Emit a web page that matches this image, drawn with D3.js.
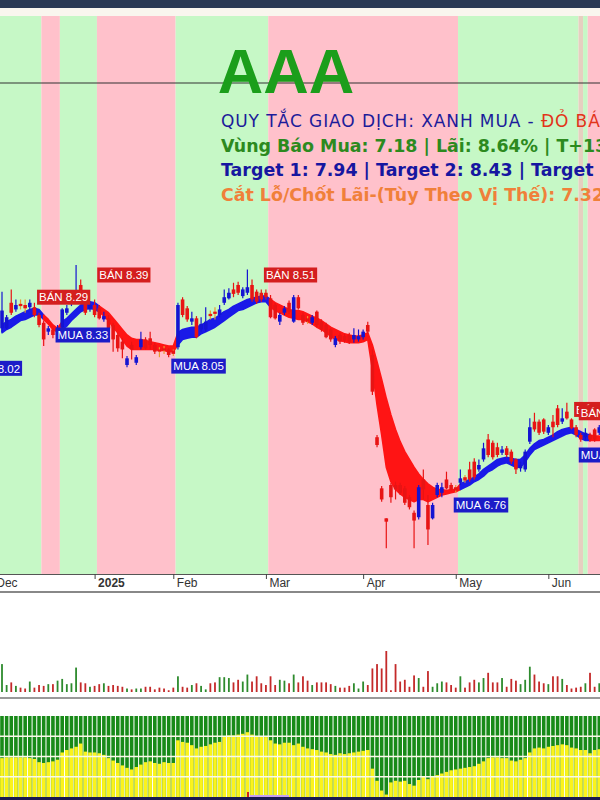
<!DOCTYPE html>
<html><head><meta charset="utf-8">
<script src="https://cdn.jsdelivr.net/npm/d3@7"></script>
<style>body{margin:0;background:#fff}svg{display:block}</style>
</head><body><svg id="c" width="600" height="800"></svg>
<script>
// ---- DATA (bar index 0..129, trading days from early Dec 2024 to mid Jun 2025) ----
const openP=[8.21,8.21,8.44,8.38,8.43,8.42,8.40,8.40,8.33,8.26,
8.18,8.20,8.15,8.22,8.35,8.43,8.48,8.60,8.47,8.38,
8.42,8.39,8.29,8.30,8.24,8.15,8.09,7.88,8.06,7.90,
8.04,8.11,8.12,8.06,8.02,8.03,8.02,8.01,8.04,8.47,
8.39,8.27,8.30,8.20,8.20,8.34,8.36,8.33,8.44,8.48,
8.56,8.60,8.50,8.53,8.60,8.54,8.53,8.53,8.48,8.42,
8.27,8.35,8.44,8.27,8.49,8.33,8.30,8.26,8.36,8.27,
8.24,8.20,8.06,8.15,8.14,8.15,8.11,8.11,8.13,8.24,
7.97,7.23,6.77,6.50,6.80,6.80,6.80,6.77,6.69,6.55,
6.51,6.85,6.62,6.50,6.71,6.73,6.85,6.80,6.78,6.82,
6.87,6.94,7.01,6.94,7.03,7.21,7.18,7.14,7.09,7.13,
7.10,7.03,6.95,6.94,7.19,7.37,7.37,7.39,7.27,7.37,
7.49,7.37,7.46,7.39,7.32,7.25,7.23,7.25,7.30,7.27];
const highP=[8.54,8.33,8.56,8.47,8.47,8.47,8.47,8.44,8.35,8.28,
8.23,8.21,8.24,8.39,8.42,8.49,8.78,8.65,8.48,8.44,
8.47,8.42,8.36,8.33,8.26,8.17,8.12,7.96,8.09,7.97,
8.18,8.13,8.18,8.08,8.04,8.05,8.03,8.02,8.44,8.49,
8.41,8.36,8.32,8.31,8.40,8.37,8.40,8.42,8.56,8.57,
8.62,8.63,8.58,8.74,8.65,8.56,8.56,8.56,8.51,8.44,
8.35,8.41,8.46,8.51,8.51,8.35,8.32,8.33,8.37,8.29,
8.26,8.21,8.14,8.17,8.16,8.17,8.21,8.20,8.20,8.27,
8.02,7.25,6.79,6.50,6.82,6.83,6.82,6.79,6.71,6.57,
6.80,6.94,6.71,6.64,6.82,6.82,6.92,6.82,6.80,6.94,
6.89,7.01,7.04,7.03,7.18,7.26,7.20,7.18,7.15,7.15,
7.12,7.04,7.01,7.12,7.40,7.45,7.39,7.40,7.34,7.43,
7.52,7.49,7.54,7.40,7.34,7.27,7.31,7.27,7.31,7.34];
const lowP=[8.18,8.20,8.33,8.36,8.38,8.35,8.38,8.31,8.22,8.05,
8.15,8.12,8.12,8.20,8.33,8.41,8.47,8.47,8.33,8.36,
8.31,8.29,8.27,8.20,8.00,8.00,7.94,7.86,7.93,7.88,
8.02,8.02,8.02,7.98,7.95,7.98,7.95,7.96,8.02,8.31,
8.27,8.24,8.12,8.18,8.18,8.29,8.29,8.31,8.42,8.47,
8.49,8.51,8.48,8.51,8.45,8.43,8.45,8.47,8.30,8.29,
8.24,8.33,8.34,8.26,8.38,8.24,8.25,8.24,8.22,8.18,
8.12,8.09,8.04,8.07,8.08,8.07,8.08,8.09,8.11,8.16,
7.61,7.14,6.65,6.23,6.64,6.67,6.71,6.62,6.58,6.23,
6.49,6.67,6.26,6.49,6.69,6.69,6.76,6.75,6.73,6.80,
6.82,6.83,6.85,6.92,7.01,7.05,7.03,7.05,7.07,7.05,
6.99,6.90,6.92,6.92,7.17,7.28,7.25,7.26,7.25,7.23,
7.32,7.35,7.39,7.30,7.23,7.19,7.21,7.19,7.19,7.25];
const closeP=[8.37,8.31,8.35,8.42,8.41,8.39,8.44,8.33,8.24,8.11,
8.21,8.15,8.20,8.38,8.39,8.47,8.54,8.49,8.35,8.42,
8.33,8.30,8.32,8.21,8.11,8.03,8.02,7.94,8.02,7.95,
8.11,8.03,8.06,8.00,8.00,8.01,7.97,7.98,8.42,8.33,
8.29,8.30,8.13,8.25,8.27,8.32,8.34,8.38,8.49,8.53,
8.52,8.53,8.56,8.58,8.47,8.45,8.47,8.49,8.31,8.30,
8.33,8.39,8.36,8.49,8.39,8.26,8.27,8.31,8.24,8.20,
8.13,8.11,8.12,8.09,8.10,8.09,8.15,8.14,8.18,8.18,
7.64,7.16,6.67,6.47,6.69,6.76,6.73,6.64,6.60,6.48,
6.78,6.76,6.40,6.62,6.80,6.78,6.77,6.76,6.75,6.86,
6.84,6.85,6.87,6.98,7.13,7.07,7.05,7.07,7.12,7.07,
7.01,6.94,6.98,7.10,7.32,7.30,7.27,7.28,7.32,7.32,
7.34,7.40,7.40,7.31,7.25,7.21,7.27,7.21,7.21,7.32];
// trend ribbon: upper and lower edge
const ribUp=[8.24,8.27,8.29,8.32,8.34,8.36,8.38,8.39,8.38,8.33,
8.29,8.24,8.21,8.27,8.30,8.34,8.38,8.42,8.44,8.45,
8.44,8.41,8.38,8.35,8.30,8.25,8.20,8.15,8.12,8.11,
8.11,8.10,8.09,8.08,8.07,8.06,8.05,8.05,8.17,8.20,
8.21,8.22,8.22,8.24,8.26,8.29,8.30,8.33,8.36,8.38,
8.41,8.43,8.45,8.47,8.48,8.49,8.50,8.50,8.47,8.44,
8.42,8.40,8.38,8.37,8.37,8.36,8.34,8.32,8.30,8.28,
8.25,8.22,8.20,8.18,8.16,8.15,8.14,8.14,8.15,8.17,
8.06,7.91,7.75,7.58,7.43,7.30,7.19,7.10,7.03,6.96,
6.90,6.85,6.81,6.78,6.76,6.76,6.75,6.76,6.76,6.81,
6.83,6.85,6.87,6.90,6.94,6.97,7.00,7.03,7.04,7.05,
7.04,7.03,7.03,7.07,7.13,7.17,7.20,7.21,7.23,7.25,
7.28,7.30,7.31,7.32,7.30,7.28,7.26,7.25,7.24,7.24];
const ribLo=[8.17,8.20,8.22,8.25,8.28,8.29,8.31,8.33,8.33,8.29,
8.25,8.20,8.18,8.20,8.23,8.28,8.32,8.36,8.38,8.39,
8.38,8.36,8.32,8.28,8.22,8.17,8.11,8.05,8.02,8.02,
8.02,8.02,8.02,8.02,8.01,8.01,8.00,8.00,8.06,8.11,
8.12,8.13,8.13,8.16,8.18,8.20,8.22,8.25,8.28,8.31,
8.34,8.37,8.38,8.40,8.42,8.44,8.45,8.45,8.40,8.37,
8.35,8.33,8.31,8.30,8.29,8.29,8.27,8.25,8.22,8.20,
8.17,8.14,8.11,8.10,8.09,8.08,8.08,8.08,8.09,8.11,
7.84,7.52,7.25,6.96,6.83,6.76,6.72,6.69,6.67,6.65,
6.67,6.67,6.65,6.67,6.69,6.71,6.72,6.73,6.74,6.76,
6.78,6.80,6.83,6.85,6.88,6.92,6.94,6.97,6.99,7.00,
6.98,6.96,6.96,7.01,7.07,7.12,7.14,7.16,7.18,7.20,
7.22,7.24,7.26,7.27,7.25,7.22,7.20,7.20,7.20,7.20];
const volume=[32,8,11,7,5,4,12,5,8,7,
9,9,13,15,9,10,28,11,10,6,
7,9,10,7,8,7,6,4,3,4,
4,6,6,3,5,4,2,5,18,6,
5,8,10,7,3,10,11,17,17,16,
11,14,12,20,12,18,10,8,18,8,
14,13,10,20,11,18,13,8,11,11,
11,9,7,5,5,7,10,4,12,8,
27,32,27,47,2,32,12,14,6,19,
16,6,24,6,10,12,11,8,5,18,
5,11,14,11,16,22,11,11,16,6,
15,13,9,14,29,20,12,10,9,18,
18,15,8,4,5,6,10,22,6,10];
const oscillator=[48,49,49,49,49,49,48,47,43,42,
43,44,46,55,58,60,62,66,56,55,
55,54,52,48,45,42,39,36,34,37,
40,43,44,42,41,43,42,42,70,68,
67,64,60,62,63,65,67,68,75,76,
76,77,78,80,77,75,75,74,70,66,
65,67,67,64,66,62,60,59,58,56,
55,53,52,54,53,54,55,56,57,58,
35,20,8,3,18,20,19,20,16,14,
21,25,22,26,27,29,31,33,34,35,
36,37,38,41,44,48,49,49,48,48,
45,44,46,48,55,60,61,60,62,63,
64,65,64,61,60,58,58,54,58,59];
// background zones (bar index ranges)
const zoneFrom=[-9,9,13,21,38,58,99,125,126,127];
const zoneTo=[8,12,20,37,57,98,124,125,126,135];
const zoneKind=["buy","sell","buy","sell","buy","sell","buy","mark","buy","sell"];
// x-axis ticks
const tickIdx=[-2,20,37,57,78,98,118];
const tickLbl=["Dec","2025","Feb","Mar","Apr","May","Jun"];
// signal labels
const sigIdx=[-7,8,12,21,37,57,98,124,125,125];
const sigType=["MUA","BÁN","MUA","BÁN","MUA","BÁN","MUA","BÁN","BÁN","MUA"];
const sigVal=["8.02","8.29","8.33","8.39","8.05","8.51","6.76","7.48","7.45","7.30"];
const sigAt=[7.85,8.49,8.15,8.69,7.87,8.69,6.62,7.48,7.45,7.07];
// header texts
const ticker="AAA";
const line1a="QUY TẮC GIAO DỊCH: XANH MUA - ", line1b="ĐỎ BÁN";
const line2="Vùng Báo Mua: 7.18 | Lãi: 8.64% | T+13";
const line3="Target 1: 7.94 | Target 2: 8.43 | Target 3: 8.92";
const line4="Cắt Lỗ/Chốt Lãi-(Tùy Theo Vị Thế): 7.32";

// ---- DRAW ----
const svg=d3.select("#c");
const N=closeP.length;
const x=d3.scaleLinear().domain([0,N-1]).range([2,2+4.63*(N-1)]);
const y=d3.scaleLinear().domain([6,11]).range([573.9,18.3]);
const vy=d3.scaleLinear().domain([0,47]).range([692,651]);
const oy=d3.scaleLinear().domain([0,100]).range([797,716]);

svg.append("rect").attr("width",600).attr("height",800).attr("fill","#fff");
svg.append("rect").attr("x",0).attr("y",0).attr("width",600).attr("height",8).attr("fill","#2a3954");
svg.append("rect").attr("x",0).attr("y",8).attr("width",600).attr("height",8).attr("fill","#f9f6ee");

const defs=svg.append("defs");
defs.append("clipPath").attr("id","cp").append("rect").attr("x",0).attr("y",16).attr("width",600).attr("height",558);
const main=svg.append("g").attr("clip-path","url(#cp)");

const zoneCol={buy:"#c6f8c6",sell:"#ffc1cb",mark:"#e6cfc0"};
zoneFrom.forEach((f,k)=>{
  main.append("rect").attr("x",x(f-0.5)).attr("y",16)
    .attr("width",x(zoneTo[k]+0.5)-x(f-0.5)).attr("height",558)
    .attr("fill",zoneCol[zoneKind[k]]);
});
main.append("line").attr("x1",0).attr("x2",600).attr("y1",83).attr("y2",83).attr("stroke","#333").attr("stroke-width",1.2);

// title and texts
svg.append("text").attr("x",286).attr("y",93).attr("text-anchor","middle")
  .attr("font-family","Liberation Sans, Arial, sans-serif").attr("font-weight","bold")
  .attr("font-size",63).attr("fill","#1b9e1b").text(ticker);
const t1=svg.append("text").attr("x",221).attr("y",127).attr("font-family","DejaVu Sans, sans-serif").attr("font-size",17).attr("letter-spacing",0.9);
t1.append("tspan").attr("fill","#1c1c9a").text(line1a);
t1.append("tspan").attr("fill","#e2341a").text(line1b);
[[line2,152,"#2c8a1e"],[line3,176,"#1616a0"],[line4,201,"#f0803a"]].forEach(([s,yy,c])=>{
  svg.append("text").attr("x",221).attr("y",yy).attr("font-family","DejaVu Sans, sans-serif")
    .attr("font-weight","bold").attr("font-size",17.4).attr("fill",c).text(s);
});

// ribbon
function kindAt(i){for(let k=0;k<zoneFrom.length;k++){if(i>=zoneFrom[k]&&i<=zoneTo[k])return zoneKind[k];}return "buy";}
const ribCol=d=>kindAt(d)==="sell"?"#ff1414":"#1a1ae8";
let segs=[],cur=null;
for(let i=0;i<N;i++){const c=ribCol(i);if(!cur||cur.c!==c){if(cur)cur.ids.push(i);cur={c,ids:[i]};segs.push(cur);}else cur.ids.push(i);}
const area=d3.area().x(i=>x(i)).y0(i=>y(ribLo[i])).y1(i=>y(ribUp[i]));
segs.forEach(s=>{
  main.append("path").attr("d",area(s.ids)).attr("fill",s.c).attr("stroke",s.c).attr("stroke-width",1.6).attr("stroke-linejoin","round");
});

// candles
const cg=main.append("g");
d3.range(N).forEach(i=>{
  const up=closeP[i]>=openP[i];
  const col=up?"#1414d2":"#e81414";
  const doji=Math.abs(closeP[i]-openP[i])<0.035 && (highP[i]-lowP[i])<0.15;
  cg.append("line").attr("x1",x(i)).attr("x2",x(i)).attr("y1",y(highP[i])).attr("y2",y(lowP[i]))
    .attr("stroke",doji&&!up?"#e89a30":col).attr("stroke-width",1.2);
  const yt=y(Math.max(openP[i],closeP[i])), yb=y(Math.min(openP[i],closeP[i]));
  cg.append("rect").attr("x",x(i)-1.8).attr("y",yt).attr("width",3.6).attr("height",Math.max(1.2,yb-yt)).attr("fill",col);
});

// signal labels
sigIdx.forEach((si,k)=>{
  const g=main.append("g");
  const isBuy=sigType[k]==="MUA";
  const tx=x(si)-2, ty=y(sigAt[k]);
  const rect=g.append("rect").attr("fill",isBuy?"#1c1cc8":"#d41e1e");
  const t=g.append("text").attr("x",tx+2).attr("y",ty+4.2).attr("font-family","Liberation Sans, Arial, sans-serif")
    .attr("font-size",11.5).attr("fill","#fff").text(sigType[k]+" "+sigVal[k]);
  const w=t.node().getComputedTextLength();
  rect.attr("x",tx).attr("y",ty-7.5).attr("width",w+4).attr("height",15);
});

// x axis
const ax=svg.append("g").attr("transform","translate(0,574)")
  .call(d3.axisBottom(x).tickValues(tickIdx).tickFormat((d,i)=>tickLbl[i]).tickSize(5).tickSizeOuter(0));
ax.select(".domain").attr("stroke","#555").attr("d","M0,0.5H600");
ax.selectAll(".tick line").attr("stroke","#444");
ax.selectAll(".tick text").attr("text-anchor","start").attr("dx",3).attr("y",3).attr("dy","0.85em")
  .attr("font-family","Liberation Sans, Arial, sans-serif").attr("font-size",12).attr("fill","#333")
  .attr("font-weight",(d,i)=>tickLbl[i]==="2025"?"bold":"normal");
svg.append("line").attr("x1",0).attr("x2",600).attr("y1",592).attr("y2",592).attr("stroke","#888").attr("stroke-width",2);

// volume
const vg=svg.append("g");
d3.range(N).forEach(i=>{
  vg.append("rect").attr("x",x(i)-0.9).attr("y",vy(volume[i])).attr("width",1.8)
    .attr("height",vy(0)-vy(volume[i])).attr("fill",closeP[i]>=openP[i]?"#2e8b2e":"#c42a2a");
});
svg.append("line").attr("x1",0).attr("x2",600).attr("y1",698).attr("y2",698).attr("stroke","#777").attr("stroke-width",1.5);

// oscillator panel
const og=svg.append("g");
d3.range(N).forEach(i=>{
  og.append("rect").attr("x",x(i)-1.8).attr("y",oy(100)).attr("width",3.6).attr("height",oy(0)-oy(100)).attr("fill","#188a18");
  og.append("rect").attr("x",x(i)-1.8).attr("y",oy(oscillator[i])).attr("width",3.6).attr("height",oy(0)-oy(oscillator[i])).attr("fill","#fbf31c");
});
[25,50,75].forEach(v=>og.append("line").attr("x1",0).attr("x2",600).attr("y1",oy(v)).attr("y2",oy(v)).attr("stroke","#fafae8").attr("stroke-width",1.5));
og.append("rect").attr("x",250).attr("y",795).attr("width",39).attr("height",2).attr("fill","#c8a0f0");
og.append("rect").attr("x",247).attr("y",792).attr("width",2).attr("height",5).attr("fill","#d02020");
svg.append("rect").attr("x",0).attr("y",797).attr("width",600).attr("height",3).attr("fill","#1a1a50");
</script></body></html>
